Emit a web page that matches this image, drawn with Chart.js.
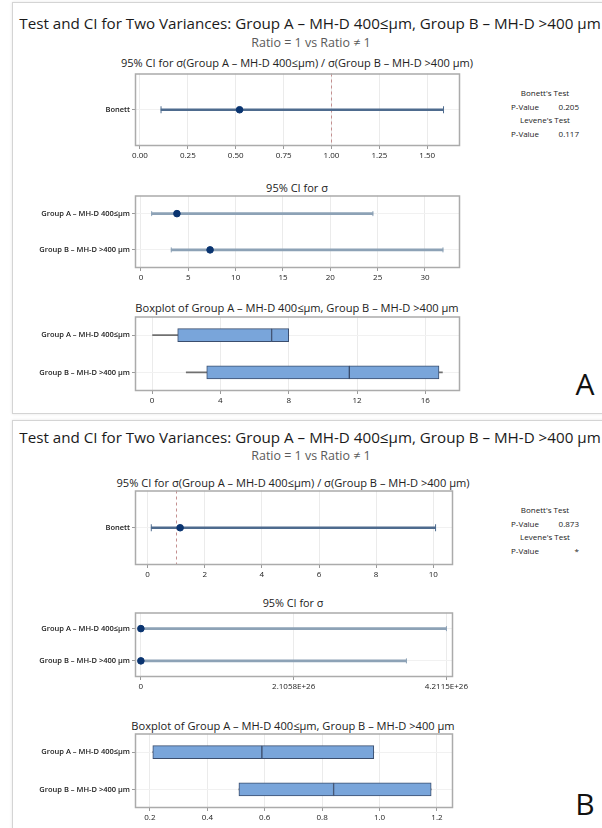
<!DOCTYPE html>
<html>
<head>
<meta charset="utf-8">
<title>Test and CI for Two Variances</title>
<script src="https://cdn.jsdelivr.net/npm/chart.js@4.4.1/dist/chart.umd.min.js"></script>
<style>
  html, body { margin: 0; padding: 0; background: #fff; }
  #page { position: relative; width: 602px; height: 828px; overflow: hidden; font-family: "Open Sans", sans-serif; color: #222; }
  .panel { position: absolute; left: 12px; width: 640px; border: 1px solid #d4d4d4; box-shadow: 0 0 3px rgba(0,0,0,0.10); }
  .txt { position: absolute; white-space: nowrap; transform: translate(-50%, -50%); line-height: 1; }
  .stat { position: absolute; left: 511px; width: 68px; font-size: 8px; line-height: 1; transform: translateY(-50%); display: flex; justify-content: space-between; color: #222; }
  canvas { position: absolute; }
</style>
</head>
<body>
<div id="page">
  <div class="panel" style="top:2px;height:410px"></div>
  <div class="panel" style="top:420px;height:440px"></div>
</div>
<script>
Chart.defaults.font.family = '"Open Sans", sans-serif';
Chart.defaults.color = '#222';

const groups = ['Group A – MH-D 400≤µm', 'Group B – MH-D >400 µm'];
const ratioCat = ['Bonett'];

// panel A
const ratioA = [0.52];
const ratioLowA = [0.11];
const ratioHighA = [1.585];
const ratioTicksA = [0, 0.25, 0.5, 0.75, 1, 1.25, 1.5];
const sigmaA = [3.8, 7.3];
const sigmaLowA = [1.13, 3.2];
const sigmaHighA = [24.5, 31.9];
const sigmaTicksA = [0, 5, 10, 15, 20, 25, 30];
const minA = [0, 2.0];
const q1A = [1.5, 3.2];
const medA = [7.0, 11.55];
const q3A = [8.0, 16.8];
const maxA = [8.0, 17.0];
const boxTicksA = [0, 4, 8, 12, 16];
const pA = ['0.205', '0.117'];

// panel B
const ratioB = [1.14];
const ratioLowB = [0.13];
const ratioHighB = [10.08];
const ratioTicksB = [0, 2, 4, 6, 8, 10];
const sigmaB = [0.40, 0.35];
const sigmaLowB = [0.21, 0.18];
const sigmaHighB = [4.2115e26, 3.66e26];
const sigmaTicksB = [0, 2.1058e26, 4.2115e26];
const sigmaTickLabelsB = ['0', '2.1058E+26', '4.2115E+26'];
const minB = [0.21, 0.51];
const q1B = [0.21, 0.51];
const medB = [0.59, 0.84];
const q3B = [0.98, 1.18];
const maxB = [0.98, 1.18];
const boxTicksB = [0.2, 0.4, 0.6, 0.8, 1.0, 1.2];
const pB = ['0.873', '*'];

const page = document.getElementById('page');

// text helper, optionally squeezed to a target width
function text(x, y, str, size, color, w) {
  const d = document.createElement('div');
  d.className = 'txt';
  d.textContent = str;
  d.style.left = x + 'px';
  d.style.top = y + 'px';
  d.style.fontSize = size + 'px';
  d.style.color = color || '#222';
  page.appendChild(d);
  if (w) d.style.fontSize = (size * w / d.offsetWidth) + 'px';
  return d;
}

function stats(y0, p) {
  const gap = 13.5;
  text(545, y0, "Bonett's Test", 8);
  text(545, y0 + 2 * gap, "Levene's Test", 8);
  [y0 + gap, y0 + 3 * gap].forEach((y, i) => {
    const r = document.createElement('div');
    r.className = 'stat';
    r.style.top = y + 'px';
    r.innerHTML = '<span>P-Value</span><span>' + p[i] + '</span>';
    page.appendChild(r);
  });
}

// plot frame + optional dashed reference line
const framePlugin = {
  id: 'frame',
  beforeDatasetsDraw(chart, args, opts) {
    const { ctx, chartArea: a, scales } = chart;
    ctx.save();
    if (opts.ref !== undefined && opts.ref !== null) {
      const x = Math.round(scales.x.getPixelForValue(opts.ref)) + 0.5;
      ctx.strokeStyle = '#c48f8f';
      ctx.lineWidth = 1;
      ctx.setLineDash([3, 3]);
      ctx.beginPath();
      ctx.moveTo(x, a.top);
      ctx.lineTo(x, a.bottom);
      ctx.stroke();
      ctx.setLineDash([]);
    }
    ctx.strokeStyle = '#ababab';
    ctx.lineWidth = 1.5;
    ctx.strokeRect(a.left + 0.5, a.top + 0.5, a.width - 1, a.height - 1);
    ctx.restore();
  }
};

function mount(plot, cats, xr, ticks, fmt, datasets, ref) {
  const L = 14, PT = 6, PR = 30, XH = 18;
  const c = document.createElement('canvas');
  c.width = plot.r - L + PR;
  c.height = plot.b - plot.t + PT + XH;
  c.style.left = L + 'px';
  c.style.top = (plot.t - PT) + 'px';
  page.appendChild(c);
  return new Chart(c, {
    type: 'bar',
    data: { labels: cats, datasets: datasets },
    options: {
      indexAxis: 'y',
      responsive: false,
      animation: false,
      events: [],
      layout: { padding: { top: PT, right: PR, left: 0, bottom: 0 } },
      plugins: { legend: { display: false }, tooltip: { enabled: false }, frame: { ref: ref } },
      scales: {
        x: {
          type: 'linear', min: xr[0], max: xr[1],
          afterBuildTicks: s => { s.ticks = ticks.map(v => ({ value: v })); },
          afterFit: s => { s.height = XH; },
          ticks: { callback: (v, i) => fmt(v, i), font: { size: 8 }, color: '#222', padding: 2, maxRotation: 0, autoSkip: false },
          grid: { color: '#ebebeb', tickColor: '#9a9a9a', tickLength: 3 },
          border: { display: false }
        },
        y: {
          type: 'category', offset: true,
          afterFit: s => { s.width = plot.l - L; },
          ticks: { font: { size: 7.5, weight: '600' }, color: '#1a1a1a', padding: 2 },
          grid: { color: '#f1f1f1', tickColor: '#9a9a9a', tickLength: 3, offset: false },
          border: { display: false }
        }
      }
    },
    plugins: [framePlugin]
  });
}

function ciSets(cats, est, lo, hi, col, capR) {
  const cap = v => ({ type: 'line', showLine: false, pointStyle: 'line', pointRotation: 90, pointRadius: capR,
    pointBorderColor: col, pointBorderWidth: 1, order: 1,
    data: v.map((x, i) => ({ x: x, y: cats[i] })) });
  return [
    { type: 'line', showLine: false, pointRadius: 3.3, pointBackgroundColor: '#0a3470', pointBorderColor: '#0a3470', order: 0,
      data: est.map((x, i) => ({ x: x, y: cats[i] })) },
    cap(lo),
    cap(hi),
    { data: lo.map((v, i) => [v, hi[i]]), backgroundColor: col, barThickness: 2, grouped: false, order: 2 }
  ];
}

function boxSets(mn, q1, md, q3, mx) {
  const box = { backgroundColor: '#79a5da', borderColor: '#3b4e6e', borderWidth: 1, borderSkipped: false, barThickness: 13, grouped: false, order: 0 };
  const wh = { backgroundColor: '#707070', barThickness: 1, grouped: false, order: 1 };
  return [
    Object.assign({ data: q1.map((v, i) => [v, md[i]]) }, box),
    Object.assign({ data: md.map((v, i) => [v, q3[i]]) }, box),
    Object.assign({ data: mn.map((v, i) => [v, q1[i]]) }, wh),
    Object.assign({ data: q3.map((v, i) => [v, mx[i]]) }, wh)
  ];
}

const mainTitle = 'Test and CI for Two Variances: Group A – MH-D 400≤µm, Group B – MH-D >400 µm';
const ratioTitle = '95% CI for σ(Group A – MH-D 400≤µm) / σ(Group B – MH-D >400 µm)';
const boxTitle = 'Boxplot of Group A – MH-D 400≤µm, Group B – MH-D >400 µm';

// ---- panel A ----
text(310, 24, mainTitle, 15, '#1a1a1a', 582);
text(311, 43, 'Ratio = 1 vs Ratio ≠ 1', 11, '#5a5a5a', 119);
text(297, 63, ratioTitle, 11, '#222', 353);
text(297, 187, '95% CI for σ', 11, '#222', 62);
text(297, 308, boxTitle, 11, '#222', 324);
stats(93, pA);
text(585, 384, 'A', 30, '#111');

mount({ l: 135, t: 73, r: 460, b: 146 }, ratioCat, [-0.026, 1.671], ratioTicksA, v => v.toFixed(2),
  ciSets(ratioCat, ratioA, ratioLowA, ratioHighA, '#4e6b8e', 3.5), 1);
mount({ l: 135, t: 195, r: 460, b: 268 }, groups, [-0.63, 33.7], sigmaTicksA, v => String(v),
  ciSets(groups, sigmaA, sigmaLowA, sigmaHighA, '#8da2b6', 2.5));
mount({ l: 135, t: 316, r: 460, b: 391 }, groups, [-1.0, 18.03], boxTicksA, v => String(v),
  boxSets(minA, q1A, medA, q3A, maxA));

// ---- panel B ----
text(310, 438, mainTitle, 15, '#1a1a1a', 582);
text(311, 456, 'Ratio = 1 vs Ratio ≠ 1', 11, '#5a5a5a', 119);
text(293, 483, ratioTitle, 11, '#222', 354);
text(293, 603, '95% CI for σ', 11, '#222', 61);
text(293, 726, boxTitle, 11, '#222', 324);
stats(510, pB);
text(585, 804, 'B', 30, '#111');

mount({ l: 135, t: 490, r: 453, b: 565 }, ratioCat, [-0.44, 10.69], ratioTicksB, v => String(v),
  ciSets(ratioCat, ratioB, ratioLowB, ratioHighB, '#4e6b8e', 3.5), 1);
mount({ l: 135, t: 612, r: 453, b: 677 }, groups, [-0.081e26, 4.302e26], sigmaTicksB, (v, i) => sigmaTickLabelsB[i],
  ciSets(groups, sigmaB, sigmaLowB, sigmaHighB, '#8da2b6', 2.5));
mount({ l: 135, t: 733, r: 453, b: 808 }, groups, [0.148, 1.256], boxTicksB, v => v.toFixed(1),
  boxSets(minB, q1B, medB, q3B, maxB));
</script>
</body>
</html>
